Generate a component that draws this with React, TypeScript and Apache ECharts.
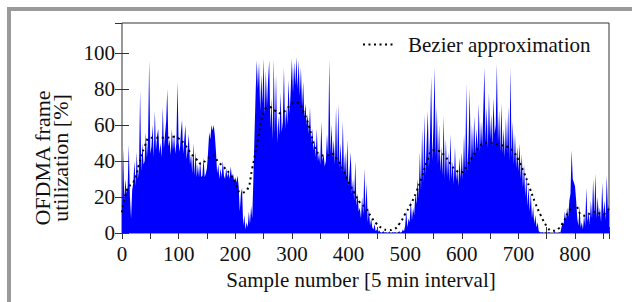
import React, { useEffect, useRef } from 'react';
import * as echarts from 'echarts';

// Sample step of the utilization arrays (every 2nd sample)
const SAMPLE_STEP = 2;
// Utilization [%] for samples 0..98, 100..198, ... (step 2)
const util000 = [
  14, 47, 18, 30, 22, 26, 49, 20, 8, 24,
  28, 40, 26, 45, 30, 36, 79, 34, 50, 38,
  40, 56, 42, 52, 96, 44, 48, 60, 42, 68,
  46, 54, 58, 44, 50, 42, 70, 47, 55, 62,
  80, 48, 52, 43, 58, 46, 55, 44, 50, 84,
];
const util100 = [
  50, 45, 56, 63, 44, 52, 60, 41, 47, 55,
  38, 44, 33, 50, 32, 45, 31, 38, 31, 40,
  31, 32, 42, 31, 33, 36, 45, 56, 52, 60,
  57, 60, 54, 45, 33, 38, 30, 36, 31, 40,
  32, 30, 36, 31, 34, 30, 37, 31, 33, 29,
];
const util200 = [
  31, 28, 32, 26, 12, 22, 25, 4, 10, 2,
  6, 3, 12, 5, 15, 8, 30, 55, 78, 96,
  80, 95, 68, 88, 72, 97, 66, 90, 70, 85,
  96, 58, 75, 52, 97, 55, 88, 50, 65, 54,
  78, 56, 62, 92, 58, 70, 60, 85, 66, 80,
];
const util300 = [
  97, 78, 95, 82, 98, 80, 96, 76, 92, 70,
  84, 64, 72, 60, 66, 55, 70, 50, 58, 46,
  52, 42, 58, 40, 45, 38, 62, 40, 44, 37,
  40, 55, 42, 97, 44, 60, 42, 52, 38, 70,
  38, 72, 36, 50, 34, 62, 33, 45, 30, 52,
];
const util400 = [
  26, 35, 45, 22, 30, 18, 40, 15, 22, 12,
  14, 8, 20, 10, 36, 12, 28, 6, 14, 4,
  8, 3, 2, 5, 1, 2, 0.5, 1.5, 0.5, 0,
  0.5, 1, 0, 0.5, 0, 0, 1, 0, 0, 0.5,
  0, 0.5, 0, 0, 0.5, 1, 0, 0.5, 2, 1,
];
const util500 = [
  4, 12, 3, 8, 6, 18, 7, 14, 10, 22,
  16, 30, 20, 45, 24, 58, 28, 66, 32, 50,
  68, 36, 55, 87, 40, 60, 92, 42, 70, 38,
  60, 34, 48, 32, 65, 30, 52, 31, 45, 28,
  55, 30, 40, 27, 48, 29, 36, 26, 42, 30,
];
const util600 = [
  45, 30, 55, 33, 83, 35, 50, 80, 38, 60,
  42, 65, 44, 58, 46, 72, 45, 62, 48, 68,
  92, 50, 70, 47, 78, 52, 66, 48, 75, 55,
  60, 94, 50, 68, 45, 72, 44, 58, 42, 64,
  44, 70, 40, 92, 42, 62, 38, 55, 36, 48,
];
const util700 = [
  34, 50, 30, 44, 25, 38, 20, 32, 15, 26,
  12, 22, 8, 15, 5, 10, 3, 6, 1, 0.5,
  0, 0.5, 0, 0, 0.5, 0, 0, 0.5, 0, 0,
  0, 0, 0.5, 0, 0, 0, 0.5, 0, 3, 6,
  5, 12, 7, 14, 9, 18, 22, 46, 30, 28,
];
const util800 = [
  26, 18, 8, 4, 15, 3, 6, 2, 10, 4,
  25, 6, 12, 5, 18, 8, 30, 10, 33, 8,
  20, 9, 14, 6, 28, 10, 18, 7, 32, 12,
  16,
];

// Bezier approximation read every 10 samples (0..860)
const BEZIER_STEP = 10;
const bezier = [
  11.5, 25, 28, 38, 48, 53, 53, 53, 53, 53.5,
  52.5, 49.5, 45, 41.5, 38.5, 41, 43, 39.5, 36.5, 33,
  28, 22.5, 23.5, 36, 52, 67, 70, 68, 66.5, 68.5,
  72, 72.5, 67.5, 59.5, 48.5, 43.5, 43, 44, 41, 35.5,
  28.5, 22.5, 17, 14, 9, 5, 2.6, 1.6, 2.1, 5.2,
  10.5, 16, 23, 31.5, 41, 46, 45.5, 42.8, 38.5, 34.7,
  33.8, 37.8, 43, 47.5, 49.8, 50, 49.5, 48.8, 48, 45.8,
  40.5, 33.5, 25, 16.5, 9.5, 3.8, 1.2, 2.2, 6.5, 12.5,
  15.5, 10.5, 9.6, 11.8, 11.1, 10.6, 13.8,
];

const X_MIN = 0;
const X_MAX = 860;
const X_TICK = 50;
const X_LABEL_EVERY = 100;
const Y_MIN = 0;
const Y_MAX = 116.7;
const Y_TICK = 20;

const X_TITLE = 'Sample number [5 min interval]';
const Y_TITLE = 'OFDMA frame\nutilization [%]';
const LEGEND_LABEL = 'Bezier approximation';

export default function App() {
  const ref = useRef<HTMLDivElement>(null);

  useEffect(() => {
    if (!ref.current) return;
    const chart = echarts.init(ref.current, null, { renderer: 'svg' });
    const utilization = [
      ...util000, ...util100, ...util200, ...util300, ...util400,
      ...util500, ...util600, ...util700, ...util800,
    ];
    const font = '"Liberation Serif", "Times New Roman", serif';
    const axisCol = '#333';
    const textCol = '#111';

    const xCommon = {
      type: 'value',
      min: X_MIN,
      max: X_MAX,
      interval: X_TICK,
      axisLine: { show: false },
      splitLine: { show: false },
      axisTick: { inside: true, length: 6, lineStyle: { color: axisCol, width: 1 } },
    };
    const yCommon = {
      type: 'value',
      min: Y_MIN,
      max: Y_MAX,
      interval: Y_TICK,
      axisLine: { show: false },
      splitLine: { show: false },
      axisTick: { inside: true, length: 7, lineStyle: { color: axisCol, width: 1 } },
    };

    chart.setOption({
      animation: false,
      backgroundColor: '#ffffff',
      grid: {
        left: 122,
        top: 23,
        width: 487,
        height: 210,
        show: true,
        borderColor: axisCol,
        borderWidth: 1,
        backgroundColor: 'transparent',
        containLabel: false,
      },
      xAxis: [
        {
          ...xCommon,
          position: 'bottom',
          axisLabel: {
            fontFamily: font,
            fontSize: 21,
            color: textCol,
            margin: 10,
            formatter: (v: number) => (v % X_LABEL_EVERY === 0 ? String(v) : ''),
          },
        },
        { ...xCommon, position: 'top', axisLabel: { show: false } },
      ],
      yAxis: [
        {
          ...yCommon,
          position: 'left',
          axisLabel: {
            fontFamily: font,
            fontSize: 21,
            color: textCol,
            margin: 7,
            showMaxLabel: false,
            formatter: (v: number) => (v % Y_TICK === 0 ? String(v) : ''),
          },
        },
        { ...yCommon, position: 'right', axisLabel: { show: false } },
      ],
      series: [
        {
          type: 'line',
          name: 'OFDMA frame utilization',
          xAxisIndex: 0,
          yAxisIndex: 0,
          data: utilization.map((v, i) => [i * SAMPLE_STEP, v]),
          symbol: 'none',
          showSymbol: false,
          lineStyle: { color: '#0000ff', width: 0 },
          areaStyle: { color: '#0000ff', opacity: 1 },
          z: 2,
        },
        {
          type: 'line',
          name: LEGEND_LABEL,
          xAxisIndex: 0,
          yAxisIndex: 0,
          data: bezier.map((v, i) => [i * BEZIER_STEP, v]),
          smooth: true,
          symbol: 'none',
          showSymbol: false,
          lineStyle: { color: '#000', width: 2, type: [2, 3.5], cap: 'butt' },
          z: 3,
        },
      ],
      graphic: [
        { type: 'rect', shape: { x: 7, y: 7, width: 625, height: 4 }, style: { fill: '#9a9a9a' }, silent: true },
        { type: 'rect', shape: { x: 7, y: 7, width: 4, height: 295 }, style: { fill: '#9a9a9a' }, silent: true },
        {
          type: 'line',
          shape: { x1: 363, y1: 44.5, x2: 393, y2: 44.5 },
          style: { stroke: '#000', lineWidth: 2, lineDash: [2, 3.5] },
          silent: true,
        },
        {
          type: 'text',
          x: 408,
          y: 44.5,
          style: {
            text: LEGEND_LABEL,
            font: `21px ${font}`,
            fill: textCol,
            align: 'left',
            verticalAlign: 'middle',
            textAlign: 'left',
            textVerticalAlign: 'middle',
          },
          silent: true,
        },
        {
          type: 'text',
          x: 361,
          y: 280,
          style: {
            text: X_TITLE,
            font: `21px ${font}`,
            fill: textCol,
            align: 'center',
            verticalAlign: 'middle',
            textAlign: 'center',
            textVerticalAlign: 'middle',
          },
          silent: true,
        },
        {
          type: 'text',
          x: 51,
          y: 158,
          rotation: Math.PI / 2,
          style: {
            text: Y_TITLE,
            font: `22px ${font}`,
            lineHeight: 18,
            fill: textCol,
            align: 'center',
            verticalAlign: 'middle',
            textAlign: 'center',
            textVerticalAlign: 'middle',
          },
          silent: true,
        },
      ],
    });

    return () => {
      chart.dispose();
    };
  }, []);

  return (
    <div
      ref={ref}
      style={{ position: 'fixed', left: 0, top: 0, width: 632, height: 302, background: '#fff' }}
    />
  );
}
